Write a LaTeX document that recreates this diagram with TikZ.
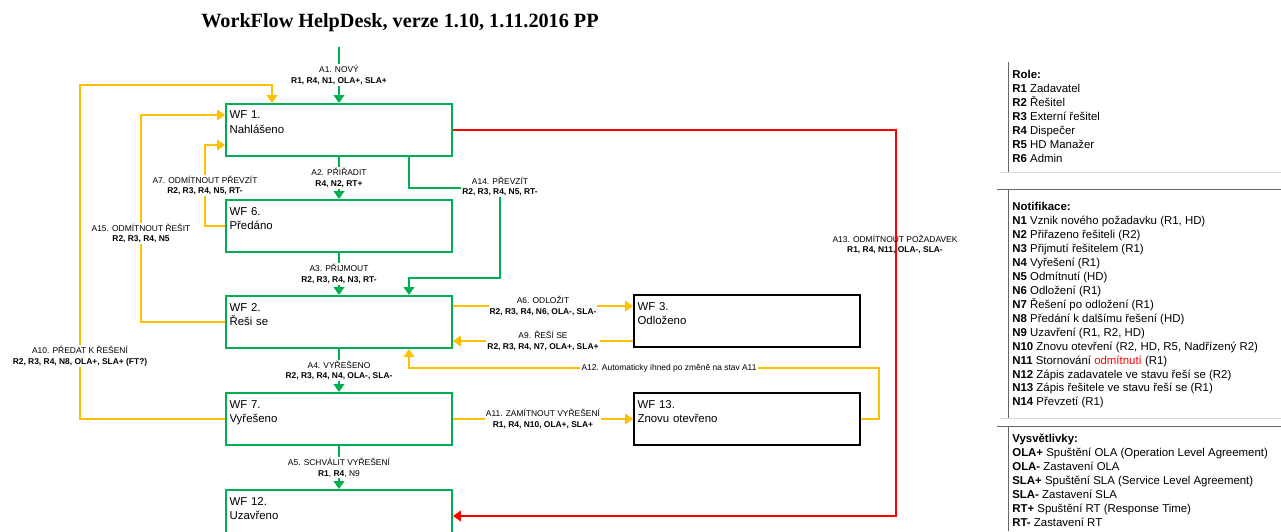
\documentclass[tikz,border=0pt]{standalone}
\usepackage{fontspec}
\setmainfont{Liberation Sans}
\newfontfamily\titlefont{Liberation Serif}
\usetikzlibrary{positioning, arrows.meta, calc}
\definecolor{wfgreen}{RGB}{0,176,80}
\definecolor{wforange}{RGB}{255,192,0}
\definecolor{wfred}{RGB}{255,0,0}

\begin{document}
\begin{tikzpicture}[
    x=0.02cm, y=-0.02cm,
    >={Triangle[length=4.5pt, width=6pt]},
    wfbox/.style={draw=wfgreen, line width=0.04cm, minimum width=4.52cm, minimum height=1.04cm, text width=4.379cm, inner xsep=2pt, inner ysep=0pt, align=left, font=\fontsize{6.5}{8.5}\selectfont},
    stbox/.style={wfbox, draw=black},
    gflow/.style={->, draw=wfgreen, line width=0.04cm},
    oflow/.style={->, draw=wforange, line width=0.04cm},
    rflow/.style={->, draw=wfred, line width=0.04cm},
    lbl/.style={fill=white, inner sep=0.6pt, align=center, font=\fontsize{4.8}{6.2}\selectfont},
    legend/.style={align=left, inner sep=0pt, anchor=north west, font=\fontsize{6.5}{7.94}\selectfont},
    legline/.style={draw=gray!80!black, line width=0.02cm}
]
\clip (0,0) rectangle (1281,531);

% ================= Title =================
\node[font={\titlefont\bfseries\fontsize{11.5}{13}\selectfont}] (title) at (400,23) {WorkFlow HelpDesk, verze 1.10, 1.11.2016 PP};

% ================= Nodes =================

% Main column of states
\node[wfbox] (wf1) at (339,130) {WF 1.\\Nahlášeno\\\mbox{}};
\node[wfbox] (wf6) at (339,226) {WF 6.\\Předáno\\\mbox{}};
\node[wfbox] (wf2) at (339,322) {WF 2.\\Řeši se\\\mbox{}};
\node[wfbox] (wf7) at (339,419) {WF 7.\\Vyřešeno\\\mbox{}};
\node[wfbox] (wf12) at (339,516) {WF 12.\\Uzavřeno\\\mbox{}};

% Side states
\node[stbox] (wf3) at (747,321) {WF 3.\\Odloženo\\\mbox{}};
\node[stbox] (wf13) at (747,419) {WF 13.\\Znovu otevřeno\\\mbox{}};

% Bend points
\coordinate (a1s) at (339,47);
\coordinate (a10c) at (80,85);
\coordinate (a15c) at (141,115);
\coordinate (a7c) at (205,145);
\coordinate (a14c) at (500,188);
\coordinate (a14d) at (500,278);
\coordinate (a12c) at (879,368);
\coordinate (a13c) at (896,516);

% ================= Edges =================

% Main flow down the column
\draw[gflow] (a1s) -- (wf1) node[midway, lbl] {A1. NOVÝ\\\textbf{R1, R4, N1, OLA+, SLA+}};
\draw[gflow] (wf1) -- (wf6) node[midway, lbl] {A2. PŘIŘADIT\\\textbf{R4, N2, RT+}};
\draw[gflow] (wf6) -- (wf2) node[midway, lbl] {A3. PŘIJMOUT\\\textbf{R2, R3, R4, N3, RT-}};
\draw[gflow] (wf2) -- (wf7) node[midway, lbl] {A4. VYŘEŠENO\\\textbf{R2, R3, R4, N4, OLA-, SLA-}};
\draw[gflow] (wf7) -- (wf12) node[midway, lbl] {A5. SCHVÁLIT VYŘEŠENÍ\\\textbf{R1}, \textbf{R4}, N9};

% Take over directly
\draw[gflow] ([xshift=-0.88cm]wf1.south east) |- (a14c) -- (a14d) -| ([xshift=-0.88cm]wf2.north east);

% Postpone and back
\draw[oflow] ([yshift=0.32cm]wf2.east) -- ([yshift=0.32cm]wf2.east -| wf3.west) node[midway, lbl] {A6. ODLOŽIT\\\textbf{R2, R3, R4, N6, OLA-, SLA-}};
\draw[oflow] ([yshift=-0.4cm]wf3.west) -- ([yshift=-0.4cm]wf3.west -| wf2.east) node[midway, lbl] {A9. ŘEŠÍ SE\\\textbf{R2, R3, R4, N7, OLA+, SLA+}};

% Reject the solution, reopen
\draw[oflow] (wf7) -- (wf13) node[midway, lbl] {A11. ZAMÍTNOUT VYŘEŠENÍ\\\textbf{R1, R4, N10, OLA+, SLA+}};
\draw[oflow] (wf13.east) -| (a12c) -| ([xshift=-0.88cm]wf2.south east);

% Returns to the start
\draw[oflow] (wf7.west) -| (a10c) -| ([xshift=0.94cm]wf1.north west);
\draw[oflow] (wf2.west) -| (a15c) -- (a15c -| wf1.west);
\draw[oflow] (wf6.west) -| (a7c) -- (a7c -| wf1.west);

% Cancel the request
\draw[rflow] (wf1.east) -| (a13c) -- (wf12.east);

% ================= Labels =================

\node[lbl] (a14lbl) at (500,186.5) {A14. PŘEVZÍT\\\textbf{R2, R3, R4, N5, RT-}};
\node[lbl] (a12lbl) at (669,368) {A12. Automaticky ihned po změně na stav A11};
\node[lbl] (a10lbl) at (80,356) {A10. PŘEDAT K ŘEŠENÍ\\\textbf{R2, R3, R4, N8, OLA+, SLA+ (FT?)}};
\node[lbl] (a15lbl) at (141,233.5) {A15. ODMÍTNOUT ŘEŠIT\\\textbf{R2, R3, R4, N5}};
\node[lbl] (a7lbl) at (205,185.5) {A7. ODMÍTNOUT PŘEVZÍT\\\textbf{R2, R3, R4, N5, RT-}};
\node[lbl, fill=none] (a13lbl) at (895,244.5) {A13. ODMÍTNOUT POŽADAVEK\\\textbf{R1, R4, N11, OLA-, SLA-}};

% ================= Legend =================

\draw[legline] (1008,62) -- (1008,172);
\draw[gray!30, line width=0.02cm] (1000,172) -- (1281,172);
\node[legend] (roles) at (1012,70) {\textbf{Role:}\\
    \textbf{R1} Zadavatel\\
    \textbf{R2} Řešitel\\
    \textbf{R3} Externí řešitel\\
    \textbf{R4} Dispečer\\
    \textbf{R5} HD Manažer\\
    \textbf{R6} Admin};

\draw[legline] (997,189) -- (1281,189);
\draw[legline] (1008,189) -- (1008,418);
\draw[gray!30, line width=0.02cm] (1000,418) -- (1281,418);
\node[legend] (notes) at (1012,202) {\textbf{Notifikace:}\\
    \textbf{N1} Vznik nového požadavku (R1, HD)\\
    \textbf{N2} Přiřazeno řešiteli (R2)\\
    \textbf{N3} Přijmutí řešitelem (R1)\\
    \textbf{N4} Vyřešení (R1)\\
    \textbf{N5} Odmítnutí (HD)\\
    \textbf{N6} Odložení (R1)\\
    \textbf{N7} Řešení po odložení (R1)\\
    \textbf{N8} Předání k dalšímu řešení (HD)\\
    \textbf{N9} Uzavření (R1, R2, HD)\\
    \textbf{N10} Znovu otevření (R2, HD, R5, Nadřízený R2)\\
    \textbf{N11} Stornování \textcolor{wfred}{odmítnutí} (R1)\\
    \textbf{N12} Zápis zadavatele ve stavu řeší se (R2)\\
    \textbf{N13} Zápis řešitele ve stavu řeší se (R1)\\
    \textbf{N14} Převzetí (R1)};

\draw[legline] (997,426) -- (1281,426);
\draw[legline] (1008,426) -- (1008,531);
\node[legend] (expl) at (1012,434) {\textbf{Vysvětlivky:}\\
    \textbf{OLA+} Spuštění OLA (Operation Level Agreement)\\
    \textbf{OLA-} Zastavení OLA\\
    \textbf{SLA+} Spuštění SLA (Service Level Agreement)\\
    \textbf{SLA-} Zastavení SLA\\
    \textbf{RT+} Spuštění RT (Response Time)\\
    \textbf{RT-} Zastavení RT};

\end{tikzpicture}
\end{document}
